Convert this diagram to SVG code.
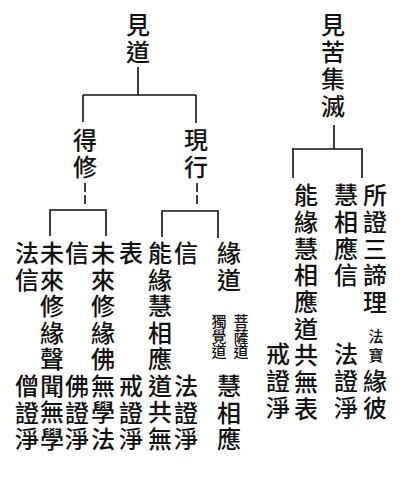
<svg xmlns="http://www.w3.org/2000/svg" width="403" height="480" viewBox="0 0 403 480">
<style>
.t { font-family: "Noto Sans CJK TC", "Noto Sans CJK JP", sans-serif; font-size: 24px; font-weight: 500; writing-mode: vertical-rl; fill: #111; }
.a { letter-spacing: 3px; }
.b { letter-spacing: 2.5px; }
.c { letter-spacing: 2.7px; }
.s { font-size: 15px; letter-spacing: 0px; }
.ln { stroke: #111; stroke-width: 1.6; fill: none; }
.dash { stroke-dasharray: 9 3; }
</style>
<rect width="403" height="480" fill="#fff"/>
<g id="connectors">
  <path class="ln" d="M138 67 V95 M83 95 H196 M83 95 V122 M196 95 V123"/>
  <path class="ln dash" d="M85 183 V206 M197 183 V207"/>
  <path class="ln" d="M50 236 V210 H106 V236"/>
  <path class="ln" d="M162 237 V211 H218 V238"/>
  <path class="ln" d="M334 125 V149 M292 149 H363 M293 149 V178 M362 149 V178"/>
</g>
<g id="kendo"><text class="t a" x="138" y="13">見道</text></g>
<g id="tokushu"><text class="t a" x="85" y="128">得修</text></g>
<g id="gengyo"><text class="t a" x="196" y="128">現行</text></g>
<g id="hoshin">
  <text class="t b" x="27" y="241">法信</text>
  <text class="t b" x="27" y="374">僧證淨</text>
</g>
<g id="mirai-shomon"><text class="t b" x="52" y="241">未來修緣聲聞無學</text></g>
<g id="butsushin">
  <text class="t b" x="77" y="241">信</text>
  <text class="t b" x="77" y="374">佛證淨</text>
</g>
<g id="mirai-butsu"><text class="t b" x="103" y="241">未來修緣佛無學法</text></g>
<g id="kaisho">
  <text class="t b" x="131" y="241">表</text>
  <text class="t b" x="131" y="374">戒證淨</text>
</g>
<g id="noen"><text class="t b" x="160" y="241">能緣慧相應道共無</text></g>
<g id="hosho">
  <text class="t b" x="186" y="241">信</text>
  <text class="t b" x="186" y="374">法證淨</text>
</g>
<g id="endo">
  <text class="t b" x="229" y="241">緣道</text>
  <text class="t s" x="241" y="314">菩薩道</text>
  <text class="t s" x="219" y="314">獨覺道</text>
  <text class="t b" x="229" y="374">慧相應</text>
</g>
<g id="kenkujumetsu"><text class="t a" x="333" y="13">見苦集滅</text></g>
<g id="r-kaisho"><text class="t c" x="278" y="342">戒證淨</text></g>
<g id="r-noen"><text class="t c" x="306" y="183">能緣慧相應道共無表</text></g>
<g id="r-eso">
  <text class="t c" x="346" y="183">慧相應信</text>
  <text class="t c" x="346" y="342">法證淨</text>
</g>
<g id="r-shotai">
  <text class="t c" x="375" y="183">所證三諦理</text>
  <text class="t s" x="376" y="329">法</text>
  <text class="t s" x="376" y="348">寶</text>
  <text class="t c" x="375" y="369">緣彼</text>
</g>
</svg>
